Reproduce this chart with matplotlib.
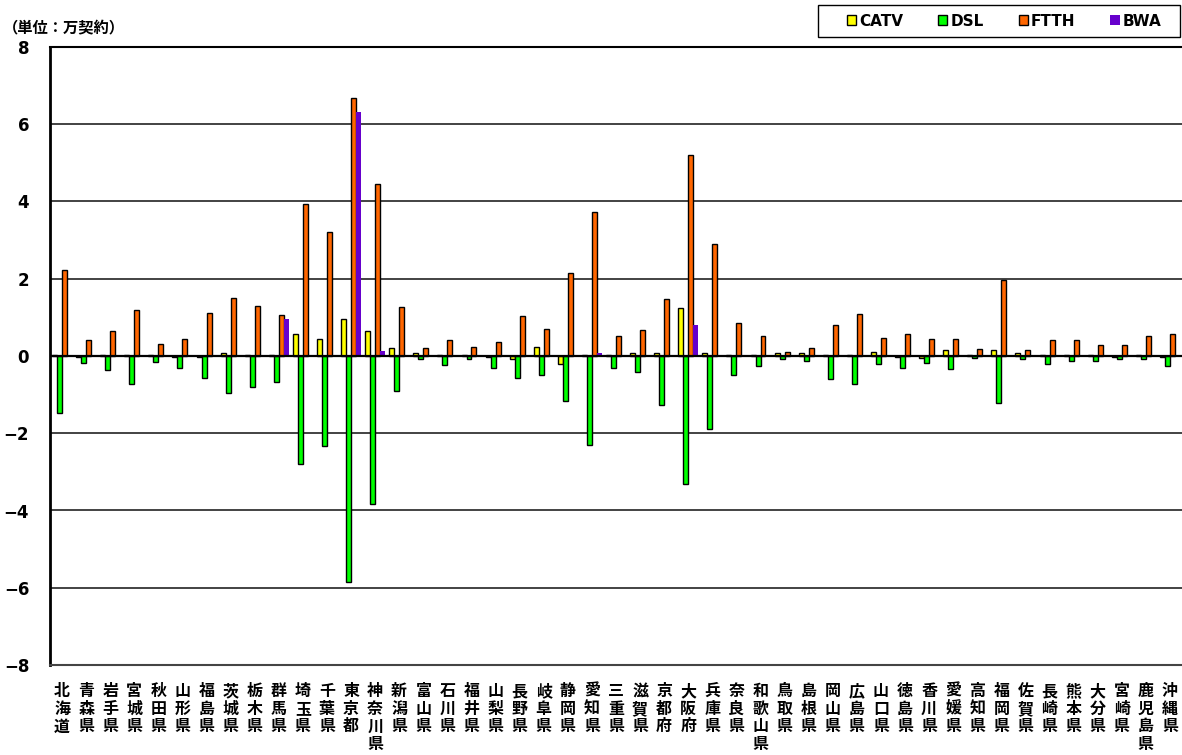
import matplotlib
matplotlib.use("Agg")
import matplotlib.pyplot as plt
from matplotlib.patches import Rectangle
import numpy as np

plt.rcParams['font.family'] = ['Noto Sans CJK JP', 'DejaVu Sans']

prefs = ["北海道","青森県","岩手県","宮城県","秋田県","山形県","福島県","茨城県","栃木県","群馬県",
         "埼玉県","千葉県","東京都","神奈川県","新潟県","富山県","石川県","福井県","山梨県","長野県",
         "岐阜県","静岡県","愛知県","三重県","滋賀県","京都府","大阪府","兵庫県","奈良県","和歌山県",
         "鳥取県","島根県","岡山県","広島県","山口県","徳島県","香川県","愛媛県","高知県","福岡県",
         "佐賀県","長崎県","熊本県","大分県","宮崎県","鹿児島県","沖縄県"]

catv = [0.03, -0.03, 0.03, 0.03, 0.03, -0.03, -0.03, 0.07, 0.03, 0.03,
        0.58, 0.45, 0.97, 0.65, 0.21, 0.08, 0.03, 0.03, -0.03, -0.07,
        0.23, -0.20, 0.03, 0.03, 0.07, 0.07, 1.24, 0.07, 0.03, 0.03,
        0.07, 0.07, 0.03, 0.03, 0.10, -0.03, -0.06, 0.15, 0.03, 0.15,
        0.08, 0.03, 0.03, 0.03, -0.03, 0.03, -0.03]

dsl = [-1.47, -0.17, -0.36, -0.73, -0.16, -0.30, -0.57, -0.97, -0.80, -0.67,
       -2.80, -2.34, -5.85, -3.82, -0.91, -0.09, -0.23, -0.09, -0.30, -0.57,
       -0.50, -1.17, -2.31, -0.30, -0.41, -1.28, -3.32, -1.88, -0.50, -0.26,
       -0.09, -0.13, -0.60, -0.73, -0.22, -0.30, -0.17, -0.34, -0.04, -1.21,
       -0.07, -0.22, -0.13, -0.13, -0.09, -0.07, -0.27]

ftth = [2.22, 0.41, 0.65, 1.18, 0.30, 0.45, 1.12, 1.51, 1.29, 1.05,
        3.93, 3.22, 6.68, 4.46, 1.28, 0.21, 0.41, 0.24, 0.37, 1.04,
        0.71, 2.16, 3.73, 0.53, 0.67, 1.48, 5.21, 2.91, 0.85, 0.51,
        0.10, 0.21, 0.81, 1.08, 0.47, 0.58, 0.45, 0.45, 0.19, 1.96,
        0.15, 0.42, 0.41, 0.28, 0.28, 0.51, 0.58]

bwa = [0.03, 0.03, 0.03, 0.03, 0.03, 0.03, 0.03, 0.03, 0.03, 0.96,
       0.03, 0.03, 6.32, 0.12, 0.03, 0.03, 0.03, 0.03, 0.03, 0.03,
       0.03, 0.03, 0.08, 0.03, 0.03, 0.03, 0.81, 0.03, 0.03, 0.03,
       0.03, 0.03, 0.03, 0.03, 0.03, 0.03, 0.03, 0.03, 0.03, 0.03,
       0.03, 0.03, 0.03, 0.03, 0.03, 0.03, 0.03]

series_names = ["CATV", "DSL", "FTTH", "BWA"]
yticks = [-8, -6, -4, -2, 0, 2, 4, 6, 8]

fig = plt.figure(figsize=(11.82, 7.55), dpi=100)
ax = fig.add_axes([50/1182, 1-665/755, 1-50/1182, (665-47)/755])

x = np.arange(len(prefs))
w = 0.207
offs = [-1.5*w, -0.5*w, 0.5*w, 1.5*w]
colors = ["#FFFF00", "#00FF00", "#FF6600", "#6600CC"]
data = [catv, dsl, ftth, bwa]
handles = []
for i, (d, c, n) in enumerate(zip(data, colors, series_names)):
    if n == "BWA":
        b = ax.bar(x + offs[i], d, w, color=c, edgecolor="none", label=n, zorder=3)
    else:
        b = ax.bar(x + offs[i], d, w, color=c, edgecolor="black", linewidth=1.0, label=n, zorder=3)
    handles.append(b)

ax.set_xlim(-0.5, len(prefs) - 0.5)
ax.set_ylim(-8, 8)
ax.set_yticks(yticks)
ax.set_yticklabels(["\u2212" + str(abs(v)) if v < 0 else str(v) for v in yticks],
                   fontsize=12, fontweight="bold", family=["DejaVu Sans"])
ax.tick_params(axis="y", length=0, pad=15)
for v in yticks:
    if v == 0:
        ax.axhline(v, color="black", lw=1.6, zorder=4)
    else:
        ax.axhline(v, color="#222222", lw=1.2, zorder=1)

ax.set_xticks(x)
ax.set_xticklabels(["\n".join(p) for p in prefs], fontsize=11.5, fontweight="bold",
                   va="top", linespacing=1.13)
ax.tick_params(axis="x", length=0, pad=13)

ax.spines["left"].set_linewidth(2)
ax.spines["top"].set_linewidth(1.5)
ax.spines["bottom"].set_linewidth(1.5)
ax.spines["bottom"].set_color("#444444")
ax.spines["right"].set_visible(False)

fig.text(3/1182, 1-27/755, "（単位：万契約）", fontsize=11, fontweight="bold", va="center", ha="left")

# legend box
fig.patches.append(Rectangle((818/1182, 1-37/755), 362/1182, 32/755,
                             transform=fig.transFigure, facecolor="white",
                             edgecolor="black", linewidth=1.0, zorder=5))
leg = fig.legend(handles=handles, labels=series_names, loc="center",
                 bbox_to_anchor=(1004/1182, 1-21/755), ncol=4, frameon=False,
                 handlelength=0.6, handleheight=0.6, handletextpad=0.2,
                 columnspacing=2.3, borderpad=0.2,
                 prop={"family": "DejaVu Sans", "weight": "bold", "size": 11})
leg.set_zorder(6)

fig.savefig("out.png", dpi=100)
